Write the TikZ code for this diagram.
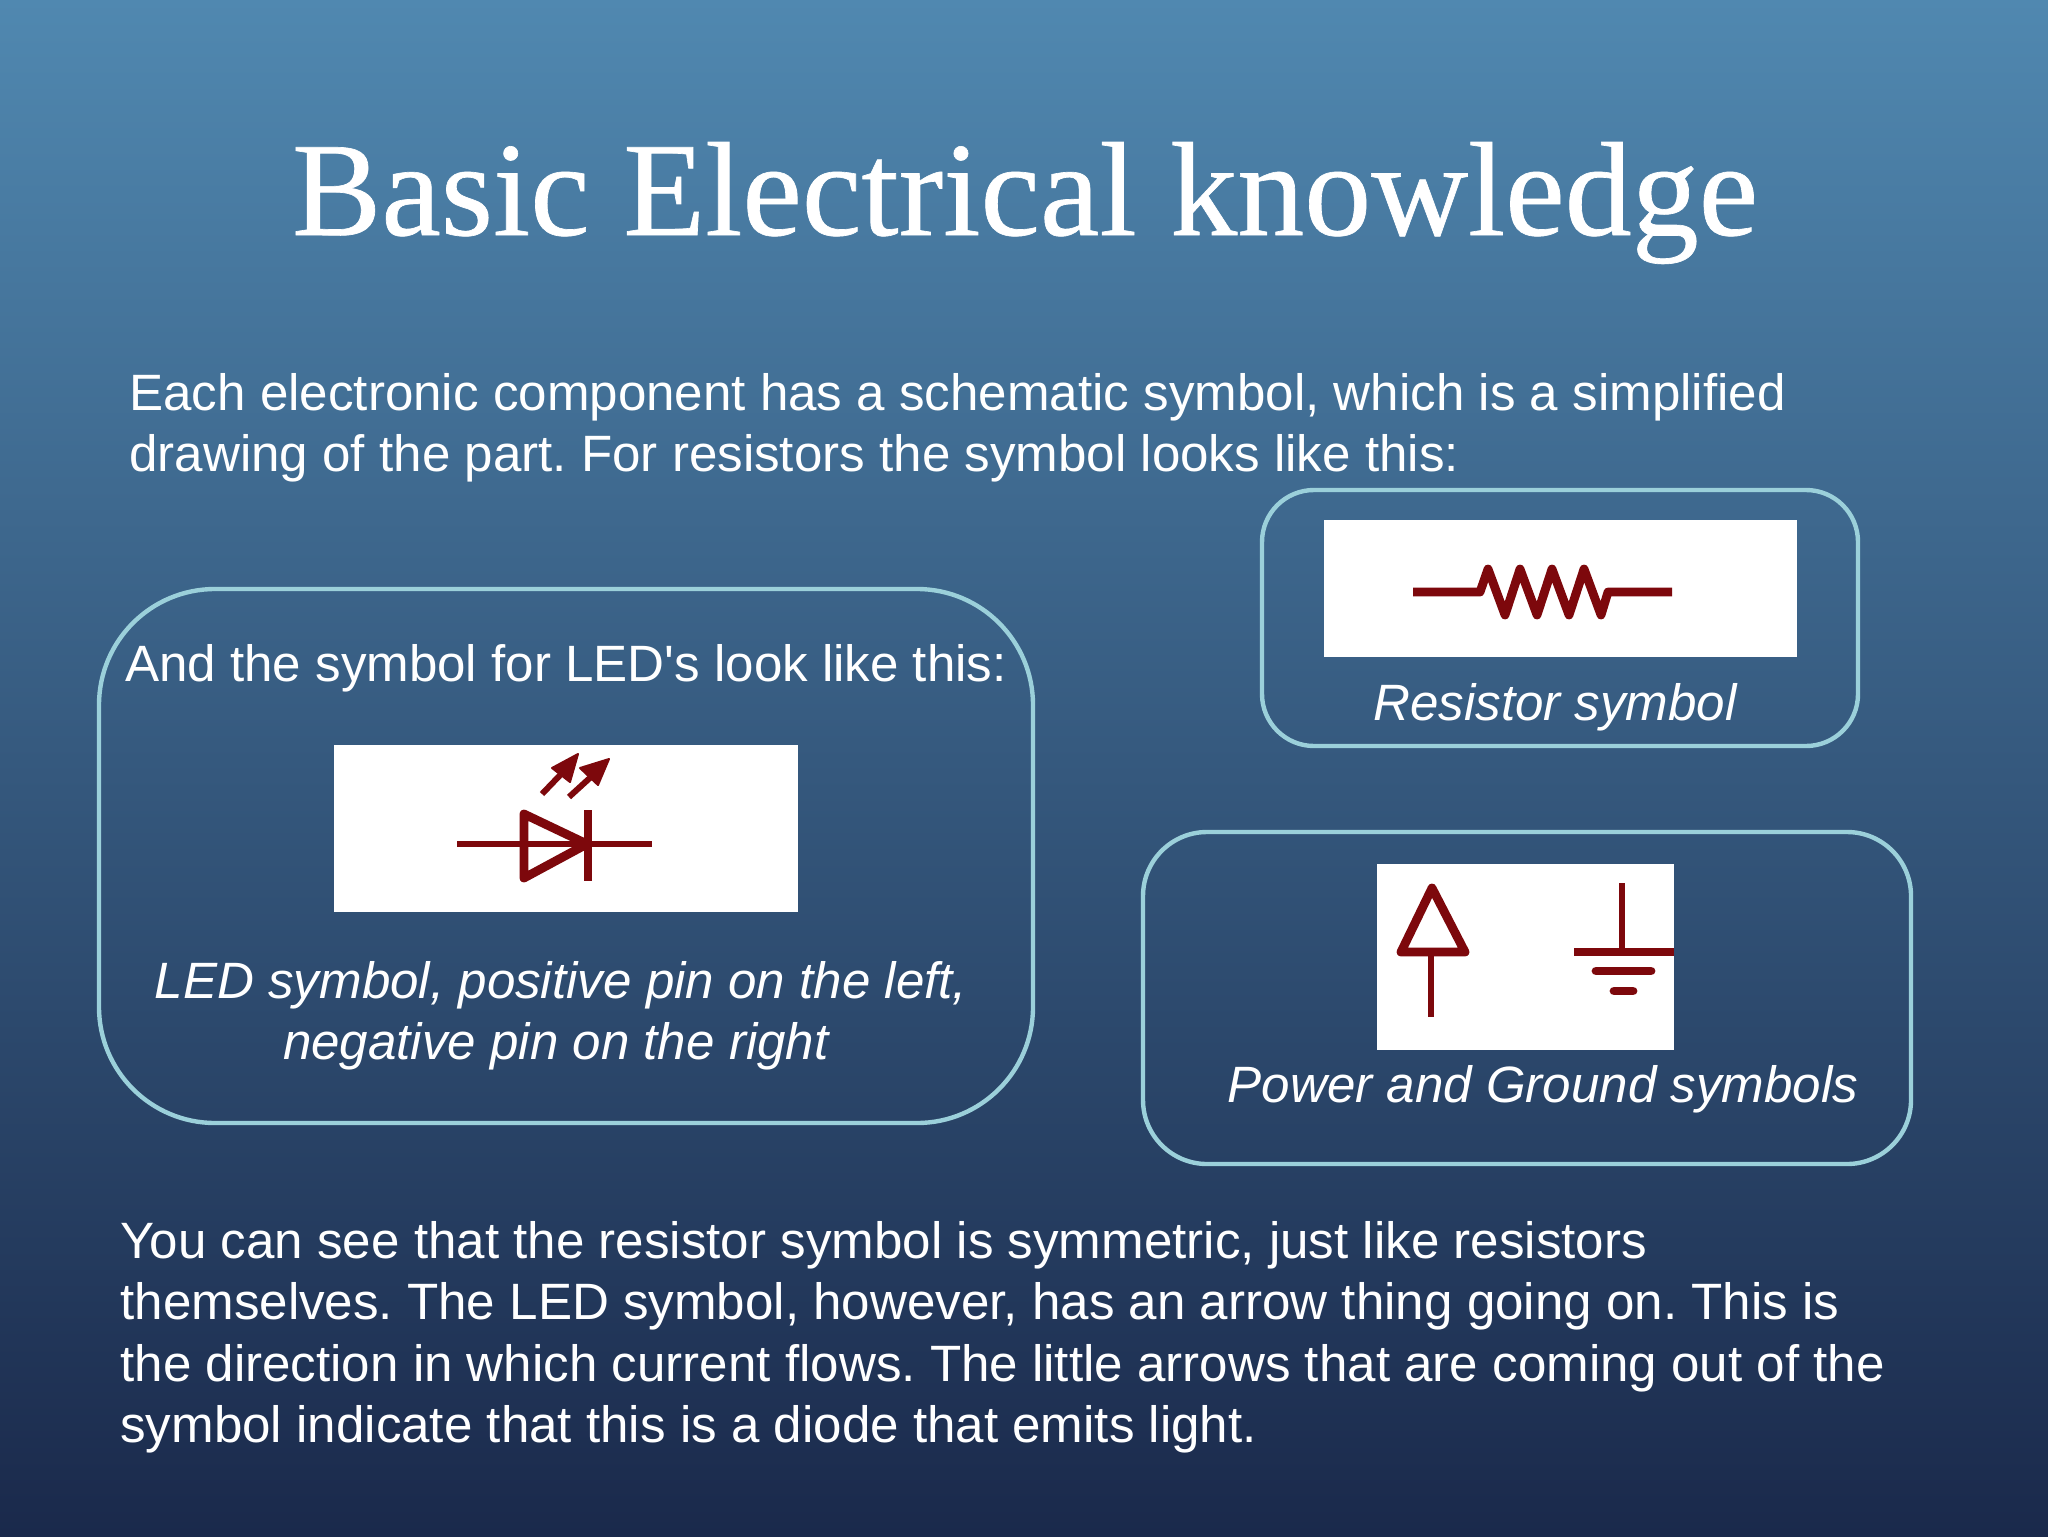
\documentclass[tikz,border=0pt]{standalone}
\usepackage{fontspec}
\newfontfamily\bodyfont{Liberation Sans}
\newfontfamily\titlefont[FakeBold=0.5]{Liberation Serif}
\definecolor{slidetop}{RGB}{80,136,176}
\definecolor{slidemid}{RGB}{50,92,130}
\definecolor{slidebot}{RGB}{26,41,75}
\definecolor{panelcolor}{RGB}{155,208,218}
\definecolor{symbolcolor}{RGB}{125,8,12}

\begin{document}
\frenchspacing
\begin{tikzpicture}[x=0.5pt,y=-0.5pt]
\tikzset{
  title/.style={inner sep=0pt, text=white, font=\titlefont\fontsize{67}{70}\selectfont},
  para/.style={inner sep=0pt, anchor=north west, align=left, text=white, font=\bodyfont\fontsize{25.56}{30.7}\selectfont},
  capt/.style={inner sep=0pt, align=center, text=white, font=\bodyfont\itshape\fontsize{25.55}{30.7}\selectfont},
  headline/.style={capt, font=\bodyfont\fontsize{25.55}{30.7}\selectfont},
  panel/.style={draw=panelcolor, line width=2.2pt, rounded corners=#1},
  picbox/.style={fill=white, inner sep=0pt},
  sym/.style={draw=symbolcolor, line width=4.4pt, line join=round},
  thin sym/.style={draw=symbolcolor, line width=3pt},
  tip/.style={fill=symbolcolor, draw=symbolcolor, line width=1pt, line join=round},
}

% background
\shade [top color=slidetop, middle color=slidemid, bottom color=slidebot] (0,0) rectangle (2048,1536);
\useasboundingbox (0,0) rectangle (2048,1536);

\node [title] (head) at (1025,203) {Basic Electrical knowledge};
\node [para] (intro) at (129,373) {Each electronic component has a schematic symbol, which is a simplified\\drawing of the part. For resistors the symbol looks like this:};

% panels
\node [panel=58pt, minimum width=467pt, minimum height=267pt] (ledpanel) at (566,856) {};
\node [panel=26pt, minimum width=298pt, minimum height=128pt] (respanel) at (1560,618) {};
\node [panel=32pt, minimum width=384pt, minimum height=166pt] (powpanel) at (1527,998) {};

\node [picbox, minimum width=232pt, minimum height=83.5pt] (ledpic) at (566,828.5) {};
\node [picbox, minimum width=236.5pt, minimum height=68.5pt] (respic) at (1560.5,588.5) {};
\node [picbox, minimum width=148.5pt, minimum height=93pt] (powpic) at (1525.5,957) {};

\node [headline] (ledhead) at (566,668) {And the symbol for LED's look like this:};
\node [capt] (ledcapt) at (561,1016) {LED symbol, positive pin on the left,\\negative pin on the right\hspace{5.2pt}\mbox{}};
\node [capt] (rescapt) at (1555,707) {Resistor symbol};
\node [capt] (powcapt) at (1543,1089) {Power and Ground symbols};

\node [para] (outro) at (120,1221) {You can see that the resistor symbol is symmetric, just like resistors\\themselves. The LED symbol, however, has an arrow thing going on. This is\\the direction in which current flows. The little arrows that are coming out of the\\symbol indicate that this is a diode that emits light.};

% resistor
\draw [sym] (1413,592) -- (1480,592) -- (1488,569) -- (1505,615) -- (1520,569) -- (1537,615) -- (1552,569) -- (1569,615) -- (1584,569) -- (1601,615) -- (1608,592) -- (1672,592);

% led
\draw [thin sym] (457,844) -- (652,844);
\draw [sym] (524,814) -- (587,844) -- (524,878) -- cycle;
\draw [sym] (588,810) -- (588,881);
\draw [thin sym] (542,794) -- (565,770);
\draw [thin sym] (569,797) -- (592,776);
\filldraw [tip] (578,754) -- (552,768) -- (570,782) -- cycle;
\filldraw [tip] (609,759) -- (580,768) -- (598,785) -- cycle;

% power
\draw [sym] (1432,888) -- (1401,952) -- (1465,952) -- cycle;
\draw [thin sym] (1431,952) -- (1431,1017);

% ground
\draw [thin sym] (1622,883) -- (1622,952);
\draw [sym] (1574,952) -- (1674,952);
\draw [sym, line cap=round] (1596,971) -- (1651,971);
\draw [sym, line cap=round] (1614,991) -- (1633,991);

\end{tikzpicture}
\end{document}
